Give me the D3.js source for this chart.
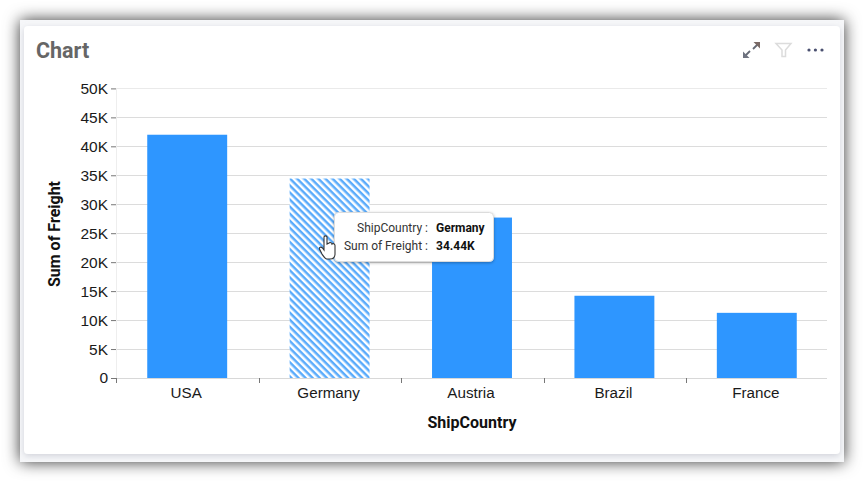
<!DOCTYPE html>
<html>

<head>
    <meta charset="utf-8">
    <title>Chart</title>
    <style>
        html, body { margin: 0; padding: 0; background: #fff; }
        svg { display: block; font-family: Roboto, sans-serif; }
    </style>
</head>

<body>
    <svg class="chart" width="864" height="482"></svg>
    <script src="https://d3js.org/d3.v7.min.js"></script>
    <script type="text/javascript">
    var countries = ["USA", "Germany", "Austria", "Brazil", "France"];
    var freight = [42000, 34440, 27700, 14200, 11250];
    var yTicks = [0, 5000, 10000, 15000, 20000, 25000, 30000, 35000, 40000, 45000, 50000];
    var hoveredCountry = "Germany";
    var tooltipLabels = ["ShipCountry :", "Sum of Freight :"];
    var tooltipValues = ["Germany", "34.44K"];

    var left = 116, right = 828, gridRight = 827, top_ = 88.4, bottom = 378;

    var svg = d3.select(".chart");
    var defs = svg.append("defs");

    var blur = defs.append("filter").attr("id", "panelShadow")
        .attr("x", "-5%").attr("y", "-8%").attr("width", "110%").attr("height", "116%");
    blur.append("feDropShadow").attr("dx", 0).attr("dy", 0).attr("stdDeviation", 8)
        .attr("flood-color", "#000").attr("flood-opacity", 0.8);

    var tipShadow = defs.append("filter").attr("id", "tipShadow")
        .attr("x", "-10%").attr("y", "-20%").attr("width", "120%").attr("height", "140%");
    tipShadow.append("feDropShadow").attr("dx", 0).attr("dy", 1).attr("stdDeviation", 1.5)
        .attr("flood-color", "#000").attr("flood-opacity", 0.3);

    var cardShadow = defs.append("filter").attr("id", "cardShadow")
        .attr("x", "-2%").attr("y", "-3%").attr("width", "104%").attr("height", "106%");
    cardShadow.append("feDropShadow").attr("dx", 0).attr("dy", 2).attr("stdDeviation", 3)
        .attr("flood-color", "#8a8fa0").attr("flood-opacity", 0.35);

    var hatch = defs.append("pattern").attr("id", "hatch")
        .attr("patternUnits", "userSpaceOnUse")
        .attr("width", 5).attr("height", 5)
        .attr("patternTransform", "rotate(45)");
    hatch.append("rect").attr("width", 5).attr("height", 5).attr("fill", "#fff");
    hatch.append("rect").attr("width", 5).attr("height", 2.5).attr("fill", "#5aabfb");

    // panel and card
    svg.append("rect").attr("x", 20).attr("y", 20).attr("width", 824).attr("height", 442)
        .attr("fill", "#f6f7f9").attr("filter", "url(#panelShadow)");
    svg.append("rect").attr("x", 24).attr("y", 26).attr("width", 816).attr("height", 428)
        .attr("rx", 4).attr("fill", "#fff").attr("filter", "url(#cardShadow)");

    svg.append("text").attr("x", 36).attr("y", 58)
        .attr("font-size", 21.5).attr("font-weight", 700).attr("fill", "#666")
        .text("Chart");

    var x = d3.scaleBand().domain(countries).range([left, right]).paddingInner(0.4387).paddingOuter(0.2194);
    var y = d3.scaleLinear().domain([0, 50000]).range([bottom, top_]);

    var yAxis = d3.axisLeft(y).tickValues(yTicks).tickSize(5).tickPadding(3)
        .tickFormat(function(d) { return d === 0 ? "0" : d / 1000 + "K"; });
    var xAxis = d3.axisBottom(x).tickSize(0).tickPadding(9);

    // grid lines
    svg.append("g").selectAll("line")
        .data(yTicks.filter(function(d) { return d > 0; }))
        .enter().append("line")
        .attr("x1", left).attr("x2", gridRight)
        .attr("y1", function(d) { return Math.floor(y(d)) + 0.5; })
        .attr("y2", function(d) { return Math.floor(y(d)) + 0.5; })
        .attr("stroke", function(d) { return d === 50000 ? "#eaeaea" : "#dcdcdc"; })
        .attr("stroke-width", 1);

    svg.append("line").attr("x1", left + 0.5).attr("x2", left + 0.5)
        .attr("y1", top_).attr("y2", bottom).attr("stroke", "#eeeeee");

    // bars
    svg.append("g").selectAll("rect")
        .data(countries)
        .enter().append("rect")
        .attr("x", function(d) { return x(d); })
        .attr("y", function(d, i) { return y(freight[i]); })
        .attr("width", x.bandwidth())
        .attr("height", function(d, i) { return y(0) - y(freight[i]); })
        .attr("fill", function(d) { return d === hoveredCountry ? "url(#hatch)" : "#2e96ff"; });

    // y axis
    var gy = svg.append("g").attr("transform", "translate(" + left + ",0)").call(yAxis);
    gy.select(".domain").remove();
    gy.selectAll("line").attr("stroke", "#777");
    gy.selectAll("text").attr("font-size", 15.5).attr("fill", "#1a1a1a");

    // x axis
    var gx = svg.append("g").attr("transform", "translate(0," + bottom + ")").call(xAxis);
    gx.select(".domain").remove();
    gx.selectAll("text").attr("font-size", 15.2).attr("dx", -1).attr("fill", "#1a1a1a");
    svg.append("line").attr("x1", left).attr("x2", gridRight)
        .attr("y1", bottom + 0.5).attr("y2", bottom + 0.5).attr("stroke", "#d8d8d8").attr("stroke-width", 1);

    // category separators
    var step = x.step();
    svg.append("g").selectAll("line")
        .data(d3.range(countries.length))
        .enter().append("line")
        .attr("x1", function(i) { return Math.ceil(left + i * step) + 0.5; })
        .attr("x2", function(i) { return Math.ceil(left + i * step) + 0.5; })
        .attr("y1", bottom).attr("y2", bottom + 5)
        .attr("stroke", "#777");

    // axis titles
    svg.append("text").attr("x", 472).attr("y", 428).attr("text-anchor", "middle")
        .attr("font-size", 16).attr("font-weight", 700).attr("fill", "#111")
        .text("ShipCountry");
    svg.append("text").attr("transform", "translate(60,234) rotate(-90)").attr("text-anchor", "middle")
        .attr("font-size", 16).attr("font-weight", 700).attr("fill", "#111")
        .text("Sum of Freight");

    // toolbar icons
    var icons = svg.append("g");
    icons.append("path")
        .attr("d", "M753 49 L759 43")
        .attr("fill", "none").attr("stroke", "#666a75").attr("stroke-width", 1.8);
    icons.append("path")
        .attr("d", "M753.5 42 L760 42 L760 48.5 Z")
        .attr("fill", "#7a6a66");
    icons.append("path")
        .attr("d", "M744 57 L750 51")
        .attr("fill", "none").attr("stroke", "#666a75").attr("stroke-width", 1.8);
    icons.append("path")
        .attr("d", "M743 51.5 L743 58 L749.5 58 Z")
        .attr("fill", "#6f7380");
    icons.append("path")
        .attr("d", "M776 43.5 L791 43.5 L785.5 50 L785.5 56.5 L782 56.5 L782 50 Z")
        .attr("fill", "none").attr("stroke", "#dcdcdc").attr("stroke-width", 1.5);
    icons.selectAll("circle").data([809, 815.4, 822]).enter().append("circle")
        .attr("cx", function(d) { return d; }).attr("cy", 50).attr("r", 1.6).attr("fill", "#4a5070");

    // tooltip
    var tip = svg.append("g");
    tip.append("rect").attr("x", 334.5).attr("y", 212.5).attr("width", 159).attr("height", 49)
        .attr("rx", 4).attr("fill", "#fff").attr("stroke", "#dcdcdc").attr("filter", "url(#tipShadow)");
    tip.selectAll("text.label").data(tooltipLabels).enter().append("text")
        .attr("class", "label").attr("x", 428).attr("y", function(d, i) { return 232 + i * 18; })
        .attr("text-anchor", "end").attr("font-size", 12).attr("fill", "#333")
        .text(function(d) { return d; });
    tip.selectAll("text.value").data(tooltipValues).enter().append("text")
        .attr("class", "value").attr("x", 436).attr("y", function(d, i) { return 232 + i * 18; })
        .attr("font-size", 12).attr("font-weight", 700).attr("fill", "#111")
        .text(function(d) { return d; });

    // hand cursor
    svg.append("path")
        .attr("d", "M324 237 C324 235.5 327 235.5 327 237 L327 244 L329 243 C330 242 332 243 332 244 C333 243 335 244 335 245.5 L335 254 C335 257 333 259 330 259 L327 259 C325 259 324 257 322 254 L319.5 249 C319 247 321 246.5 322.5 248 L324 250 Z")
        .attr("fill", "#fff").attr("stroke", "#333").attr("stroke-width", 1.1);
    </script>
</body>

</html>
